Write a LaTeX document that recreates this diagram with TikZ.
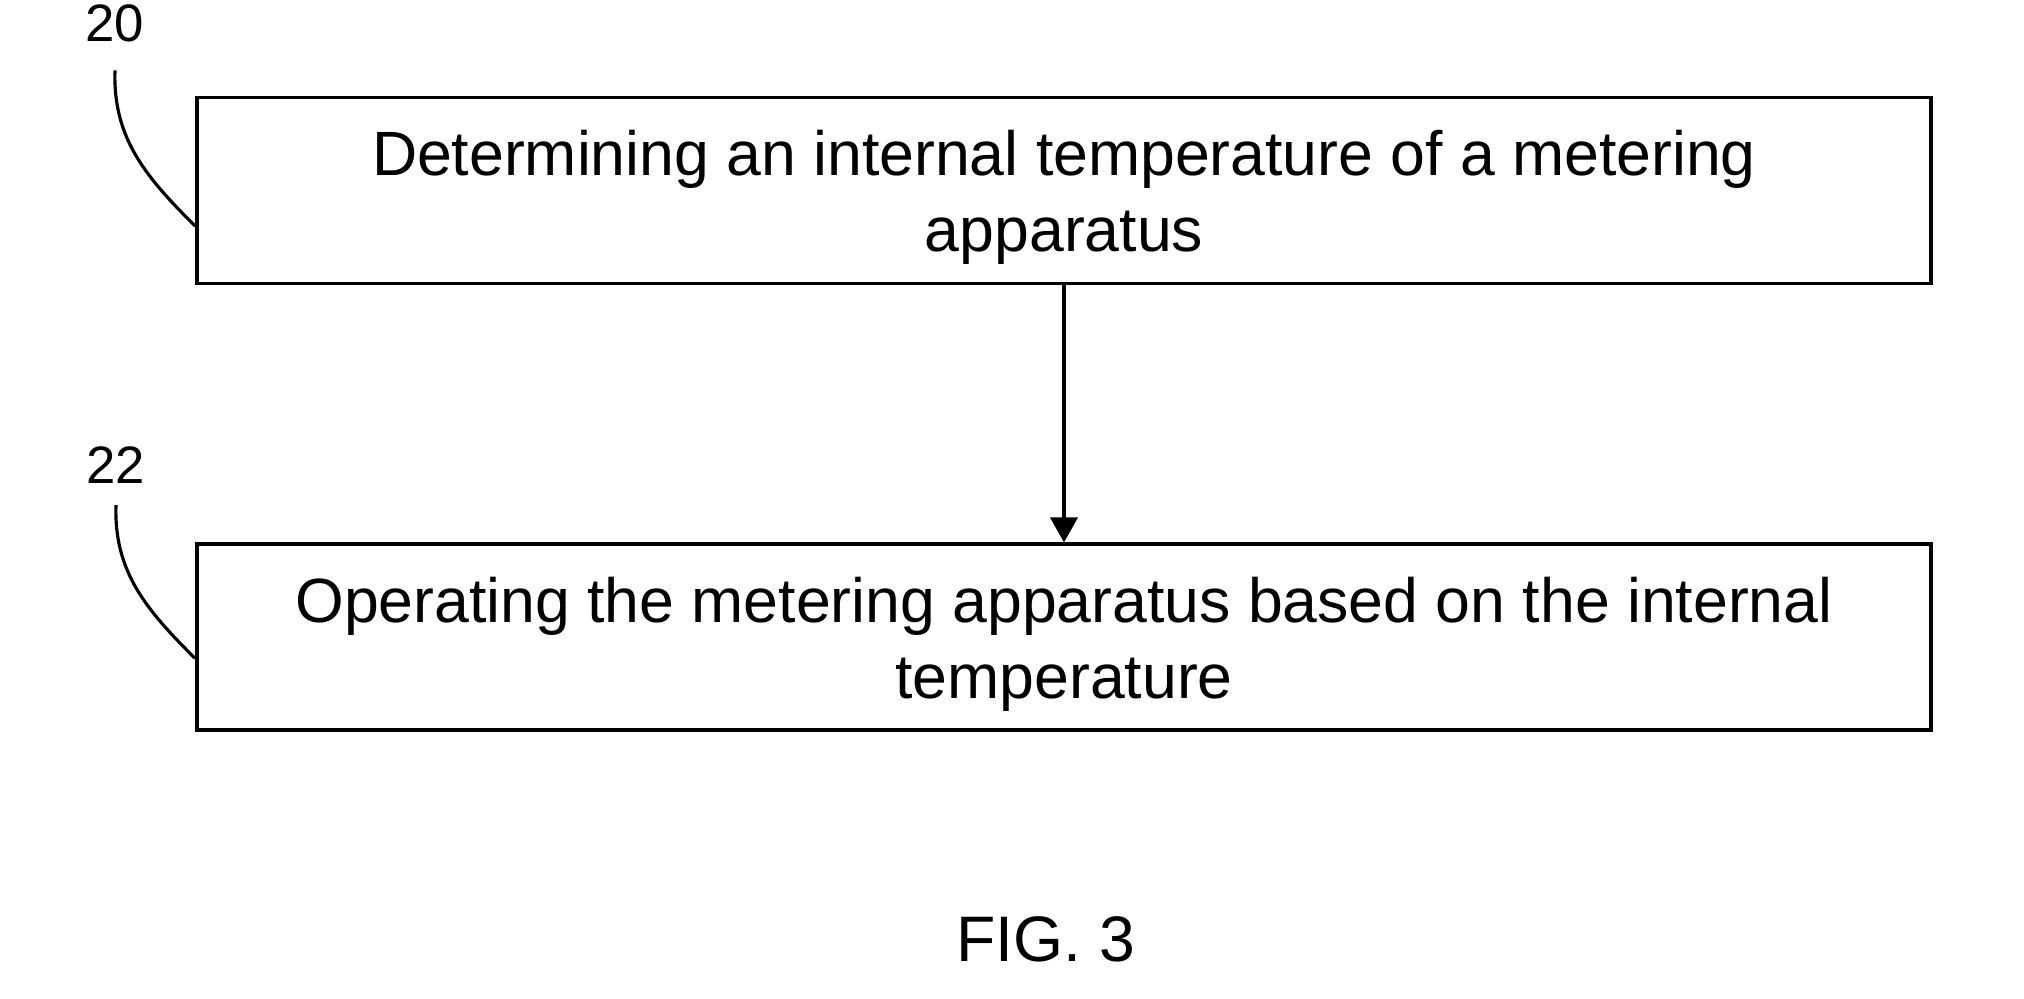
\documentclass[tikz,border=0pt]{standalone}
\usepackage{fontspec}
\setmainfont{Liberation Sans}
\usetikzlibrary{arrows.meta, positioning}

\begin{document}
\begin{tikzpicture}[
      stepbox/.style={draw, line width=1.1pt, minimum width=17.34cm, minimum height=1.86cm, align=center,
        font=\fontsize{17.8}{21.6}\selectfont},
      refnum/.style={font=\fontsize{15}{18}\selectfont, inner sep=0pt},
      lead/.style={line width=0.9pt},
      arr/.style={-{Triangle[length=0.25cm, width=0.27cm]}, line width=1.1pt}
    ]
    \useasboundingbox (0,0) rectangle (20.24,-9.98);

    \node[stepbox] (s20) at (10.64,-1.905) {\rule{0pt}{16.8pt}Determining an internal temperature of a metering\\apparatus};
    \node[stepbox, below=2.57cm of s20] (s22) {\rule{0pt}{16.8pt}Operating the metering apparatus based on the internal\\temperature};

    \node[refnum] (n20) at (1.15,-0.23) {20};
    \node[refnum] (n22) at (1.16,-4.65) {22};

    \node[font=\fontsize{18.3}{22}\selectfont] (fig) at (10.46,-9.39) {FIG. 3};

    \draw[arr] (s20) -- (s22);
    \draw[lead] ([yshift=-0.28cm]n20.south) to[out=-92, in=135] ([yshift=-0.355cm]s20.west);
    \draw[lead] ([yshift=-0.21cm]n22.south) to[out=-92, in=135] ([yshift=-0.21cm]s22.west);
  \end{tikzpicture}
\end{document}
